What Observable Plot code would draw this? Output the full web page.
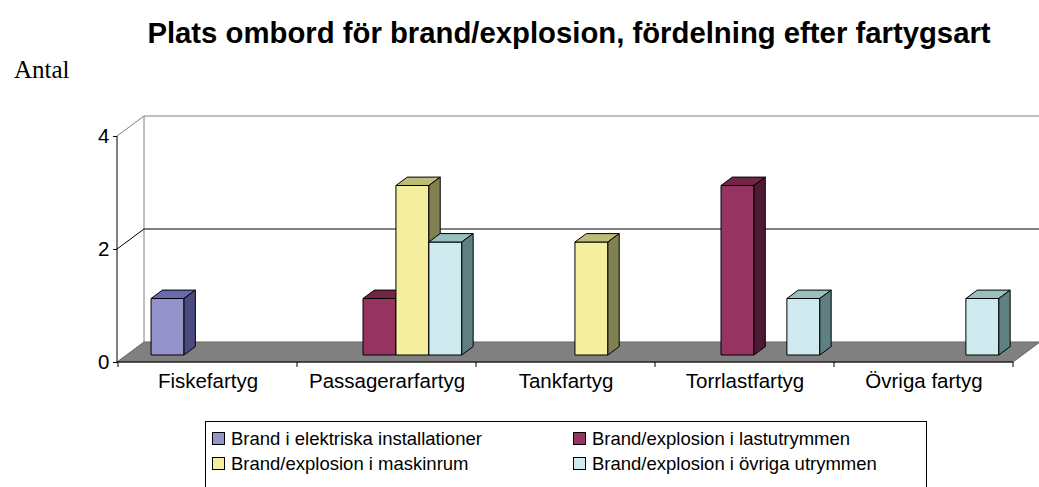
<!DOCTYPE html>
<html>
<head>
<meta charset="utf-8">
<script src="https://cdn.jsdelivr.net/npm/d3@7"></script>
<script src="https://cdn.jsdelivr.net/npm/@observablehq/plot@0.6"></script>
<style>
  body { margin: 0; background: #fff; }
  #wrap { position: relative; width: 1039px; height: 487px; overflow: hidden; font-family: "Liberation Sans", Arial, sans-serif; color: #000; }
  #title { position: absolute; left: 100px; width: 938px; top: 16px; text-align: center; font-weight: bold; font-size: 29.3px; line-height: 34px; white-space: nowrap; }
  #ylab { position: absolute; left: 14px; top: 54px; font-family: "Liberation Serif", "Times New Roman", serif; font-size: 25px; line-height: 32px; }
  #chart { position: absolute; left: 0; top: 0; }
  #legend { position: absolute; left: 205px; top: 421px; width: 722px; height: 90px; border: 1px solid #000; box-sizing: border-box; }
  .item { position: absolute; font-size: 18.5px; line-height: 24px; white-space: nowrap; }
  .sw { display: inline-block; width: 11px; height: 11px; border: 1px solid #000; margin-right: 6px; vertical-align: 0px; }
</style>
</head>
<body>
<div id="wrap">
  <div id="title"></div>
  <div id="ylab"></div>
  <div id="chart"></div>
  <div id="legend"></div>
</div>
<script>
// ---- data ----
const titleText = "Plats ombord för brand/explosion, fördelning efter fartygsart";
const yLabel = "Antal";
const categories = ["Fiskefartyg", "Passagerarfartyg", "Tankfartyg", "Torrlastfartyg", "Övriga fartyg"];
const series = [
  "Brand i elektriska installationer",
  "Brand/explosion i lastutrymmen",
  "Brand/explosion i maskinrum",
  "Brand/explosion i övriga utrymmen"
];
const valuesElektriska = [1, 0, 0, 0, 0];
const valuesLastutrymmen = [0, 1, 0, 3, 0];
const valuesMaskinrum = [0, 3, 2, 0, 0];
const valuesOvriga = [0, 2, 0, 1, 1];
const yTicks = [0, 2, 4];

// ---- styles ----
const frontColors = ["#9494ca", "#963461", "#f3ef9f", "#cfebef"];
const topColors = ["#6a6ab0", "#732548", "#bdbc78", "#98c0c0"];
const sideColors = ["#4b4b80", "#4d1a33", "#808050", "#5f8080"];
const depth = [27, -20];       // floor depth in px
const barDepth = [0.35, 0.77]; // front/back of bars as fraction of floor depth
const barFrac = 0.184;         // bar width as fraction of band

const seriesValues = [valuesElektriska, valuesLastutrymmen, valuesMaskinrum, valuesOvriga];
const rows = [];
series.forEach((s, si) => categories.forEach((c, ci) => rows.push({series: s, si, category: c, value: seriesValues[si][ci]})));

document.getElementById("title").textContent = titleText;
document.getElementById("ylab").textContent = yLabel;

function scene(index, scales, values, dims) {
  const {x, y} = scales;
  const bw = x.bandwidth ? x.bandwidth() : (dims.width - dims.marginLeft - dims.marginRight) / categories.length;
  const L = dims.marginLeft, R = dims.width - dims.marginRight;
  const y0 = y(0), yMax = y(yTicks[yTicks.length - 1]);
  const [DX, DY] = depth;
  const g = d3.create("svg:g");
  const line = (x1, y1, x2, y2, stroke) =>
    g.append("line").attr("x1", x1).attr("y1", y1).attr("x2", x2).attr("y2", y2).attr("stroke", stroke).attr("stroke-width", 1);
  const poly = (pts, fill, stroke) =>
    g.append("polygon").attr("points", pts.map(p => p.join(",")).join(" ")).attr("fill", fill).attr("stroke", stroke).attr("stroke-width", 1).attr("stroke-linejoin", "round");

  // back walls
  line(L + DX, yMax + DY, L + DX, y0 + DY, "#808080");
  line(L, yMax, L + DX, yMax + DY, "#808080");
  line(L + DX, yMax + DY, dims.width, yMax + DY, "#808080");
  for (const t of yTicks.slice(1, -1)) {
    line(L, y(t), L + DX, y(t) + DY, "#000");
    line(L + DX, y(t) + DY, dims.width, y(t) + DY, "#000");
  }
  // floor
  poly([[L, y0], [R, y0], [R + DX, y0 + DY], [L + DX, y0 + DY]], "#808080", "#666");
  // front axes
  line(L, yMax, L, y0, "#000");
  line(L, y0, R, y0, "#000");
  for (let i = 0; i <= categories.length; i++) {
    const xx = i < categories.length ? x(categories[i]) : x(categories[i - 1]) + bw;
    line(xx, y0, xx, y0 + 5, "#000");
  }
  // bars
  const w = bw * barFrac;
  const pad = (bw - w * series.length) / 2;
  const fdx = DX * barDepth[0], fdy = DY * barDepth[0];
  const ddx = DX * (barDepth[1] - barDepth[0]), ddy = DY * (barDepth[1] - barDepth[0]);
  categories.forEach((c, ci) => {
    series.forEach((s, si) => {
      const v = seriesValues[si][ci];
      if (!v) return;
      const bx = x(c) + pad + si * w + fdx;
      const b0 = y0 + fdy, b1 = y(v) + fdy;
      poly([[bx, b1], [bx + w, b1], [bx + w, b0], [bx, b0]], frontColors[si], "#000");
      poly([[bx, b1], [bx + w, b1], [bx + w + ddx, b1 + ddy], [bx + ddx, b1 + ddy]], topColors[si], "#000");
      poly([[bx + w, b1], [bx + w + ddx, b1 + ddy], [bx + w + ddx, b0 + ddy], [bx + w, b0]], sideColors[si], "#000");
    });
  });
  return g.node();
}

const chart = Plot.plot({
  width: 1039,
  height: 410,
  marginTop: 136,
  marginBottom: 48,
  marginLeft: 117,
  marginRight: 26,
  style: {fontSize: "20.5px", fontFamily: "'Liberation Sans', Arial, sans-serif", overflow: "visible", background: "transparent", color: "#000"},
  x: {type: "band", domain: categories, padding: 0, tickSize: 0, tickPadding: 11, label: null},
  y: {domain: [0, yTicks[yTicks.length - 1]], ticks: yTicks, tickSize: 4, tickPadding: 4, label: null, tickFormat: d3.format("d")},
  marks: [
    Plot.barY(rows, {x: "category", y: "value", fill: "none", stroke: "none"}),
    scene
  ]
});
document.getElementById("chart").appendChild(chart);

// legend
const legend = document.getElementById("legend");
const legendPos = [[6, 5], [367, 5], [6, 30], [367, 30]];
series.forEach((s, i) => {
  const d = document.createElement("div");
  d.className = "item";
  d.style.left = legendPos[i][0] + "px";
  d.style.top = legendPos[i][1] + "px";
  const sw = document.createElement("span");
  sw.className = "sw";
  sw.style.background = frontColors[i];
  d.appendChild(sw);
  d.appendChild(document.createTextNode(s));
  legend.appendChild(d);
});
</script>
</body>
</html>
